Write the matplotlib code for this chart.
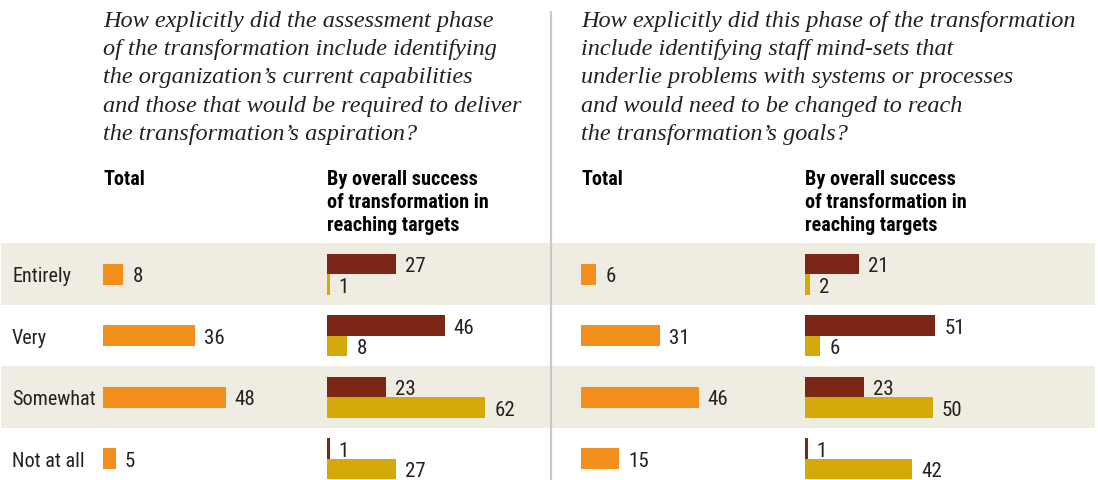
import os
import matplotlib
matplotlib.use('Agg')
import matplotlib.pyplot as plt
from matplotlib import font_manager as fm
from matplotlib.font_manager import FontProperties

# ---------------- data ----------------
categories = ['Entirely', 'Very', 'Somewhat', 'Not at all']
left_total = [8, 36, 48, 5]
left_success_a = [27, 46, 23, 1]     # dark red bars
left_success_b = [1, 8, 62, 27]      # gold bars
right_total = [6, 31, 46, 15]
right_success_a = [21, 51, 23, 1]
right_success_b = [2, 6, 50, 42]

left_question = ["How explicitly did the assessment phase",
                 "of the transformation include identifying",
                 "the organization\u2019s current capabilities",
                 "and those that would be required to deliver",
                 "the transformation\u2019s aspiration?"]
right_question = ["How explicitly did this phase of the transformation",
                  "include identifying staff mind-sets that",
                  "underlie problems with systems or processes",
                  "and would need to be changed to reach",
                  "the transformation\u2019s goals?"]
header_total = ["Total"]
header_success = ["By overall success", "of transformation in", "reaching targets"]

# ---------------- style ----------------
W, H = 1098, 481
PX_PER_UNIT = 2.555
ROW0, PITCH = 275.0, 61.5
ORANGE = '#F3901D'
DARKRED = '#7C2715'
GOLD = '#D4A90A'
BAND = '#EFECE2'
DIVIDER = '#C9C9C9'
TXT = '#222222'

all_files = set(f.fname for f in fm.fontManager.ttflist)
for d in ('/usr/share/fonts', '/usr/local/share/fonts', os.path.expanduser('~/.fonts')):
    for root, _, fs in os.walk(d):
        for fn in fs:
            if fn.lower().endswith(('.ttf', '.otf')):
                all_files.add(os.path.join(root, fn))


def find_font(patterns):
    low = {os.path.basename(p).lower(): p for p in all_files}
    for pat in patterns:
        for b, p in low.items():
            if b.startswith(pat):
                return p
    return None


reg = find_font(['robotocondensed-regular', 'liberationsansnarrow-regular',
                 'notosans-condensed.', 'dejavusanscondensed.'])
bold = find_font(['robotocondensed-bold', 'liberationsansnarrow-bold.',
                  'notosans-condensedbold', 'dejavusanscondensed-bold.'])
serif_it = find_font(['liberationserif-italic', 'dejavuserif-italic'])


def fp(path, size, **fallback):
    p = FontProperties(fname=path) if path else FontProperties(**fallback)
    p.set_size(size)
    return p


VAL = fp(reg, 15.0, family='DejaVu Sans')
ROWF = fp(reg, 14.5, family='DejaVu Sans')
HEAD = fp(bold, 14.5, family='DejaVu Sans', weight='bold')

fig = plt.figure(figsize=(W / 100, H / 100), dpi=100)
fig.patch.set_facecolor('white')

# background axes in pixel coordinates
bg = fig.add_axes([0, 0, 1, 1])
bg.set_xlim(0, W)
bg.set_ylim(H, 0)
bg.axis('off')
for i in (0, 2):
    bg.axhspan(ROW0 + PITCH * (i - 0.5), ROW0 + PITCH * (i + 0.5),
               xmin=1 / W, xmax=1094.7 / W, color=BAND, lw=0, zorder=0)
bg.plot([550.7, 550.7], [12, H], color=DIVIDER, lw=1.6, zorder=1,
        solid_capstyle='butt')

for i, c in enumerate(categories):
    bg.text(12, ROW0 + PITCH * i + 7.5, c, fontproperties=ROWF, color=TXT,
            va='baseline', ha='left')

# titles (fit font size to the widest line)
title_objs = []
for x0, lines in ((103, left_question), (581, right_question)):
    for k, line in enumerate(lines):
        t = bg.text(x0, 27 + 28.2 * k, line, fontproperties=fp(serif_it, 14, family='serif', style='italic'),
                    color=TXT, va='baseline', ha='left')
        title_objs.append(t)
fig.canvas.draw()
r = fig.canvas.get_renderer()
wid = title_objs[5].get_window_extent(r).width
new_fs = 14 * 494.0 / wid
for t in title_objs:
    t.set_fontsize(new_fs)

# headers
for x0 in (103, 581):
    bg.text(x0, 185.5, header_total[0], fontproperties=HEAD, color='black',
            va='baseline')
for x0 in (327, 805):
    for k, line in enumerate(header_success):
        bg.text(x0, 185.5 + 22.8 * k, line, fontproperties=HEAD, color='black',
                va='baseline')


def bar_axes(left_px, width_px=230):
    ax = fig.add_axes([left_px / W, 0, width_px / W, 1])
    ax.set_xlim(0, width_px / PX_PER_UNIT)
    ax.set_ylim((H - ROW0) / PITCH, -ROW0 / PITCH)
    ax.axis('off')
    ax.patch.set_alpha(0)
    return ax


def label(ax, v, y):
    ax.annotate(str(v), xy=(v, y), xytext=(9, -7.5), textcoords='offset pixels',
                fontproperties=VAL, color=TXT, va='baseline', ha='left')


ys = list(range(len(categories)))
ht = 21 / PITCH
hs = 20.5 / PITCH

for left_px, vals in ((103, left_total), (581, right_total)):
    ax = bar_axes(left_px)
    ax.barh(ys, vals, height=ht, color=ORANGE, lw=0)
    for y, v in zip(ys, vals):
        label(ax, v, y)

for left_px, va_, vb_ in ((327, left_success_a, left_success_b),
                          (805, right_success_a, right_success_b)):
    ax = bar_axes(left_px)
    ya = [y - hs / 2 for y in ys]
    yb = [y + hs / 2 for y in ys]
    ax.barh(ya, va_, height=hs, color=DARKRED, lw=0)
    ax.barh(yb, vb_, height=hs, color=GOLD, lw=0)
    for y, v in zip(ya, va_):
        label(ax, v, y)
    for y, v in zip(yb, vb_):
        label(ax, v, y)

fig.savefig('out.png', dpi=100, facecolor='white')
